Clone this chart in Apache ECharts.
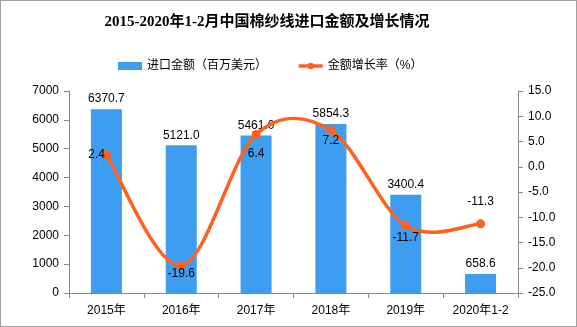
<!DOCTYPE html>
<html>
<head>
<meta charset="utf-8">
<script src="https://cdn.jsdelivr.net/npm/echarts@6/dist/echarts.min.js"></script>
<style>
html,body{margin:0;padding:0;background:#fff;}
#c{width:575px;height:325px;border:1px solid #a0a0a0;}
</style>
</head>
<body>
<div id="c"></div>
<script>
var categories = ['2015年', '2016年', '2017年', '2018年', '2019年', '2020年1-2'];
var amountValues = [6370.7, 5121.0, 5461.0, 5854.3, 3400.4, 658.6];
var growthValues = [2.4, -19.6, 6.4, 7.2, -11.7, -11.3];
var leftTicks = {min: 0, max: 7000, interval: 1000};
var rightTicks = {min: -25, max: 15, interval: 5};

var font = '"Liberation Sans","Noto Sans CJK SC",sans-serif';
var lineColor = '#ff6020';
var chart = echarts.init(document.getElementById('c'));

// label placement for each growth point (style only)
var growthLabelStyle = [
  {position: 'left', distance: -3},
  {position: 'bottom', distance: -3},
  {position: 'bottom', distance: 9},
  {position: 'bottom', distance: 0},
  {position: 'bottom', distance: 1},
  {position: 'top', distance: 12}
];
var growthData = growthValues.map(function (v, i) {
  return {value: v, label: growthLabelStyle[i]};
});

// Excel-like (Catmull-Rom) smooth curve through the data points, drawn via the axes
function renderCurve(params, api) {
  if (params.dataIndex !== 0) return null;
  var pts = growthValues.map(function (v, i) { return api.coord([i, v]); });
  var n = pts.length, children = [];
  for (var i = 0; i < n - 1; i++) {
    var p0 = pts[Math.max(i - 1, 0)], p1 = pts[i], p2 = pts[i + 1], p3 = pts[Math.min(i + 2, n - 1)];
    children.push({
      type: 'bezierCurve',
      shape: {
        x1: p1[0], y1: p1[1], x2: p2[0], y2: p2[1],
        cpx1: p1[0] + (p2[0] - p0[0]) / 6, cpy1: p1[1] + (p2[1] - p0[1]) / 6,
        cpx2: p2[0] - (p3[0] - p1[0]) / 6, cpy2: p2[1] - (p3[1] - p1[1]) / 6
      },
      style: {stroke: lineColor, lineWidth: 3.5, fill: null}
    });
  }
  return {type: 'group', children: children};
}

chart.setOption({
  animation: false,
  title: {
    text: '2015-2020年1-2月中国棉纱线进口金额及增长情况',
    left: 261, top: 9, textAlign: 'center',
    textStyle: {fontFamily: '"Liberation Serif","Noto Sans CJK SC",serif', fontWeight: 'bold', fontSize: 15, color: '#000'}
  },
  legend: {
    top: 59, left: 117, padding: 0,
    itemWidth: 24, itemHeight: 8, itemGap: 30,
    textStyle: {fontFamily: font, fontSize: 12, color: '#000'},
    data: [
      {name: '进口金额（百万美元）', icon: 'rect'},
      {name: '金额增长率（%）', lineStyle: {color: lineColor, width: 3.5, opacity: 1}}
    ]
  },
  grid: {left: 68, right: 58, top: 90, bottom: 33},
  xAxis: {
    type: 'category', data: categories,
    axisLine: {lineStyle: {color: '#888'}},
    axisTick: {show: true, length: 5, lineStyle: {color: '#888'}},
    axisLabel: {fontFamily: font, fontSize: 12, color: '#000', margin: 12}
  },
  yAxis: [{
    type: 'value', min: leftTicks.min, max: leftTicks.max, interval: leftTicks.interval,
    splitLine: {show: false},
    axisLine: {show: true, lineStyle: {color: '#888'}},
    axisTick: {show: true, length: 5, lineStyle: {color: '#888'}},
    axisLabel: {fontFamily: font, fontSize: 12, color: '#000', margin: 10,
      formatter: function (v) { return String(v); }}
  }, {
    type: 'value', min: rightTicks.min, max: rightTicks.max, interval: rightTicks.interval,
    splitLine: {show: false},
    axisLine: {show: true, lineStyle: {color: '#888'}},
    axisTick: {show: true, length: 5, lineStyle: {color: '#888'}},
    axisLabel: {fontFamily: font, fontSize: 12, color: '#000', margin: 10,
      formatter: function (v) { return v.toFixed(1); }}
  }],
  series: [{
    name: '进口金额（百万美元）', type: 'bar', data: amountValues, barWidth: 31, z: 2,
    itemStyle: {color: '#3d9ef0'},
    label: {show: true, position: 'top', distance: 4, fontFamily: font, fontSize: 12, color: '#000',
      formatter: function (p) { return p.value.toFixed(1); }}
  }, {
    type: 'custom', yAxisIndex: 1, silent: true, z: 4,
    data: growthValues.map(function (v, i) { return [i, v]; }),
    encode: {x: 0, y: 1},
    renderItem: renderCurve
  }, {
    name: '金额增长率（%）', type: 'line', yAxisIndex: 1, data: growthData,
    symbol: 'circle', symbolSize: 9,
    lineStyle: {color: lineColor, width: 3.5, opacity: 0},
    itemStyle: {color: lineColor},
    label: {show: true, position: 'bottom', distance: 3, fontFamily: font, fontSize: 12, color: '#000',
      formatter: function (p) { return p.value.toFixed(1); }},
    z: 5
  }]
});
</script>
</body>
</html>
